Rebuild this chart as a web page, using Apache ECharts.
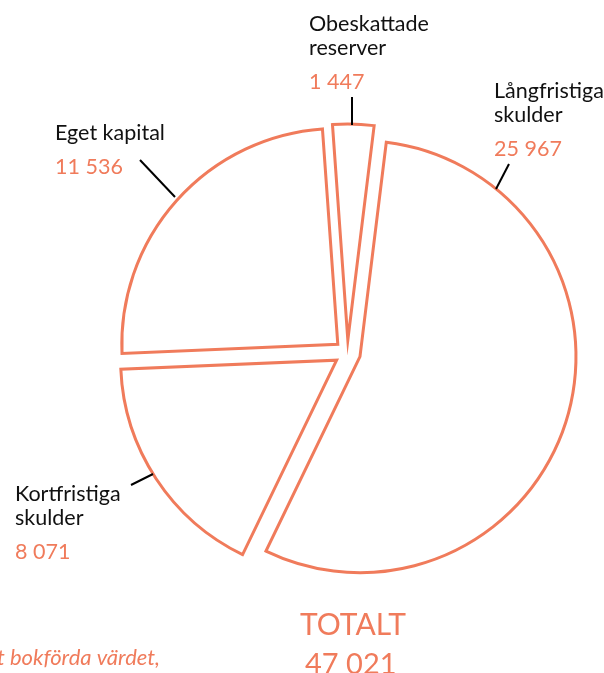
<!DOCTYPE html>
<html>
<head>
<meta charset="utf-8">
<script src="https://cdn.jsdelivr.net/npm/echarts@6/dist/echarts.min.js"></script>
<style>
  html, body { margin: 0; padding: 0; background: #fff; }
  #chart { width: 604px; height: 673px; }
</style>
</head>
<body>
<div id="chart"></div>
<script>
// data
var categories = ['Långfristiga\nskulder', 'Kortfristiga\nskulder', 'Eget kapital', 'Obeskattade\nreserver'];
var values = [25967, 8071, 11536, 1447];
var valueLabels = ['25 967', '8 071', '11 536', '1 447'];
var totalLabel = '47 021';

var orange = '#f07b5b';
var font = 'Lato, "Noto Sans", sans-serif';

// label placement (top-left of text box) and leader lines
var labelPos = [
  { x: 494, y: 79, line: [[496, 189], [509, 164]] },
  { x: 15, y: 482, line: [[153, 474], [131, 485]] },
  { x: 55, y: 121, line: [[175, 197], [140, 160]] },
  { x: 309, y: 12, line: [[352, 125], [352, 97]] }
];

var center = [347.5, 353];
var radius = 216;
var startAngle = 83;

var chart = echarts.init(document.getElementById('chart'));

var option = {
  animation: false,
  series: [
    {
      // exploded slices
      type: 'pie',
      center: center,
      radius: [0, radius],
      startAngle: startAngle,
      selectedMode: 'multiple',
      selectedOffset: 13,
      silent: true,
      itemStyle: {
        color: '#fff',
        borderColor: orange,
        borderWidth: 3,
        borderJoin: 'miter',
        borderMiterLimit: 30
      },
      select: {
        itemStyle: { color: '#fff', borderColor: orange, borderWidth: 3 }
      },
      label: { show: false },
      labelLine: { show: false },
      data: categories.map(function (c, i) {
        return { name: c, value: values[i], selected: true };
      })
    },
    {
      // same pie, invisible, only carries the labels
      type: 'pie',
      center: center,
      radius: [0, radius],
      startAngle: startAngle,
      silent: true,
      z: 3,
      itemStyle: { color: 'rgba(0,0,0,0)', borderWidth: 0 },
      label: {
        show: true,
        position: 'outside',
        overflow: 'none',
        formatter: function (p) {
          return '{n|' + p.name + '}\n{v|' + valueLabels[p.dataIndex] + '}';
        },
        rich: {
          n: { fontFamily: font, fontSize: 21.5, color: '#111', lineHeight: 24 },
          v: { fontFamily: font, fontSize: 21.5, color: orange, lineHeight: 44 }
        }
      },
      labelLine: {
        show: true,
        lineStyle: { color: '#000', width: 2 }
      },
      labelLayout: function (params) {
        var p = labelPos[params.dataIndex];
        return {
          x: p.x,
          y: p.y,
          align: 'left',
          verticalAlign: 'top',
          labelLinePoints: p.line
        };
      },
      data: categories.map(function (c, i) {
        return { name: c, value: values[i] };
      })
    }
  ],
  graphic: [
    {
      type: 'text', left: 300, top: 610,
      style: { text: 'TOTALT', fontFamily: font, fontSize: 30, fill: orange }
    },
    {
      type: 'text', left: 305, top: 650,
      style: { text: totalLabel, fontFamily: font, fontSize: 29, fill: orange }
    },
    {
      type: 'text', left: -3, top: 647,
      style: { text: 't bokförda värdet,', fontFamily: font, fontSize: 22, fontStyle: 'italic', fill: orange }
    }
  ]
};

chart.setOption(option);
</script>
</body>
</html>
